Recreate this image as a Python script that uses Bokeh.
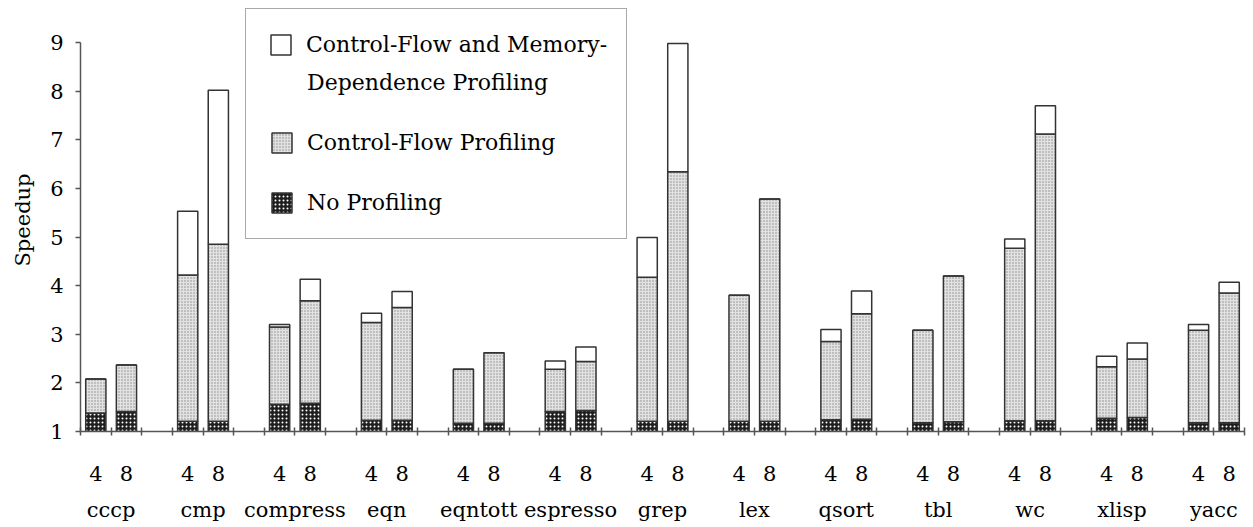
from bokeh.plotting import figure
from bokeh.models import FixedTicker, LinearAxis, Range1d, Legend, LegendItem
from bokeh.embed import file_html
from bokeh.resources import INLINE

benchmarks = ["cccp", "cmp", "compress", "eqn", "eqntott", "espresso", "grep",
              "lex", "qsort", "tbl", "wc", "xlisp", "yacc"]
issue_widths = ["4", "8"]

# speedups, order: bench0-4, bench0-8, bench1-4, ...
no_prof = [1.38, 1.41, 1.21, 1.21, 1.56, 1.58, 1.23, 1.23, 1.17, 1.17, 1.41, 1.43,
           1.21, 1.21, 1.21, 1.21, 1.24, 1.25, 1.18, 1.20, 1.22, 1.22, 1.27, 1.29,
           1.18, 1.18]
cf_prof = [2.08, 2.37, 4.22, 4.85, 3.15, 3.69, 3.24, 3.55, 2.28, 2.62, 2.28, 2.44,
           4.17, 6.34, 3.80, 5.78, 2.85, 3.42, 3.08, 4.20, 4.77, 7.12, 2.33, 2.49,
           3.08, 3.85]
cf_md_prof = [2.08, 2.37, 5.53, 8.02, 3.20, 4.13, 3.43, 3.88, 2.28, 2.62, 2.45, 2.74,
              4.99, 8.98, 3.80, 5.78, 3.10, 3.89, 3.08, 4.20, 4.96, 7.70, 2.55, 2.82,
              3.20, 4.07]

FONT = "DejaVu Serif"
n_groups = len(benchmarks)
n_slots = n_groups * 3 - 1

xs = []
labels_map = {}
for g in range(n_groups):
    for k, w in enumerate(issue_widths):
        c = 3 * g + k + 0.5
        xs.append(c)
        labels_map[c] = w
base = [1.0] * len(xs)

p = figure(width=1250, height=527, output_backend="svg", toolbar_location=None,
           title=None,
           x_range=Range1d(0, n_slots), y_range=Range1d(1, 9 + 34 / 48.625),
           min_border_left=80, min_border_right=6, min_border_top=8,
           min_border_bottom=96)
p.outline_line_color = None
p.grid.visible = False
p.background_fill_color = "white"
p.border_fill_color = "white"

BW = 0.66
LC = "#333333"
r_np = p.vbar(x=xs, bottom=base, top=no_prof, width=BW, fill_color="#1e1e1e",
              line_color=LC, line_width=1.5, hatch_pattern=".", hatch_color="white",
              hatch_scale=4, hatch_weight=1.5)
r_cf = p.vbar(x=xs, bottom=no_prof, top=cf_prof, width=BW, fill_color="#e2e2e2",
              line_color=LC, line_width=1.5, hatch_pattern=".", hatch_color="#8a8a8a",
              hatch_scale=3, hatch_weight=1)
r_md = p.vbar(x=xs, bottom=cf_prof, top=cf_md_prof, width=BW, fill_color="white",
              line_color=LC, line_width=1.5)
r_blank = p.scatter(x=[], y=[], fill_alpha=0, line_alpha=0)

# y axis
ya = p.yaxis[0]
ya.bounds = (1, 9)
ya.ticker = FixedTicker(ticks=list(range(1, 10)))
ya.minor_tick_line_color = None
ya.major_tick_in = 0
ya.major_tick_out = 5
ya.major_tick_line_color = "#555555"
ya.major_tick_line_width = 1.5
ya.axis_line_color = "#555555"
ya.axis_line_width = 1.5
ya.major_label_text_font = FONT
ya.major_label_text_font_size = "21px"
ya.major_label_text_color = "black"
ya.major_label_standoff = 12
ya.axis_label = "Speedup"
ya.axis_label_text_font = FONT
ya.axis_label_text_font_style = "normal"
ya.axis_label_text_font_size = "21px"
ya.axis_label_text_color = "black"
ya.axis_label_standoff = 12

# x axis: ticks at slot boundaries, labels 4 / 8
xa = p.xaxis[0]
xa.ticker = FixedTicker(ticks=xs, minor_ticks=list(range(0, n_slots + 1)))
xa.major_label_overrides = labels_map
xa.major_tick_line_color = None
xa.major_tick_in = 0
xa.major_tick_out = 4
xa.minor_tick_in = 4
xa.minor_tick_out = 4
xa.minor_tick_line_color = "#555555"
xa.minor_tick_line_width = 1.5
xa.axis_line_color = "#555555"
xa.axis_line_width = 1.5
xa.major_label_text_font = FONT
xa.major_label_text_font_size = "21px"
xa.major_label_text_color = "black"
xa.major_label_standoff = 30

# benchmark names axis
centers = [3 * g + 1.0 for g in range(n_groups)]
na = LinearAxis(ticker=FixedTicker(ticks=centers),
                major_label_overrides={c: b for c, b in zip(centers, benchmarks)})
na.axis_line_color = None
na.major_tick_line_color = None
na.major_tick_in = 0
na.major_tick_out = 0
na.minor_tick_line_color = None
na.minor_tick_in = 0
na.minor_tick_out = 0
na.major_label_text_font = FONT
na.major_label_text_font_size = "21px"
na.major_label_text_color = "black"
na.major_label_standoff = 14
p.add_layout(na, "below")

# framed legend: a blank title reserves the first line, which is drawn by legend2
legend = Legend(items=[
    LegendItem(label="Dependence Profiling", renderers=[r_blank]),
    LegendItem(label="Control-Flow Profiling", renderers=[r_cf]),
    LegendItem(label="No Profiling", renderers=[r_np]),
], location=(165, 192))
legend.title = " "
legend.title_text_font = FONT
legend.title_text_font_size = "22px"
legend.title_standoff = 13
legend.label_text_font = FONT
legend.label_text_font_size = "22px"
legend.label_text_color = "black"
legend.label_width = 296
legend.glyph_width = 25
legend.glyph_height = 25
legend.label_standoff = 13
legend.padding = 23
legend.margin = 0
legend.spacing = 35
legend.border_line_color = "#555555"
legend.border_line_width = 1.5
legend.background_fill_alpha = 1
p.add_layout(legend, "center")

# first line of the two-line entry, with its swatch
legend2 = Legend(items=[LegendItem(label="Control-Flow and Memory-", renderers=[r_md])],
                 location=(188, 374))
legend2.label_text_font = FONT
legend2.label_text_font_size = "22px"
legend2.label_text_color = "black"
legend2.glyph_width = 25
legend2.glyph_height = 25
legend2.label_standoff = 13
legend2.padding = 0
legend2.margin = 0
legend2.border_line_color = None
legend2.background_fill_alpha = 0
p.add_layout(legend2, "center")

open("out.html", "w").write(file_html(p, INLINE))
